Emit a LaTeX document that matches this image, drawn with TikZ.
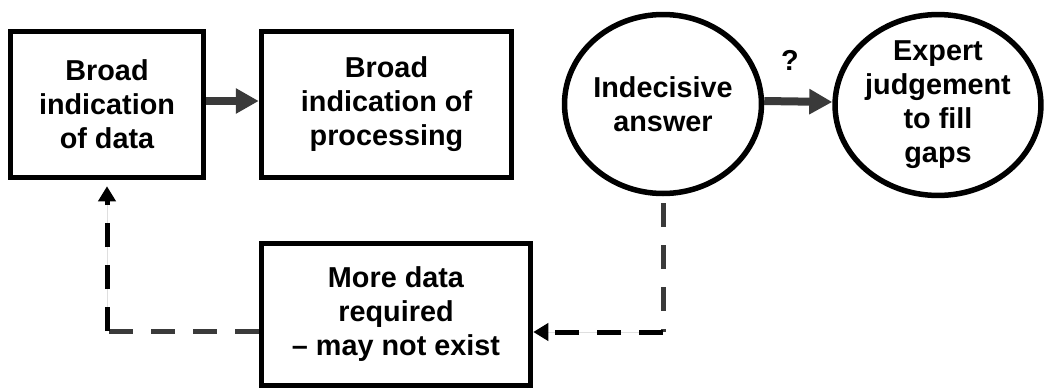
\documentclass[tikz,border=0pt]{standalone}
\usepackage{fontspec}
\setmainfont{Liberation Sans}
\usetikzlibrary{arrows.meta,shapes.geometric,calc}
\definecolor{ag}{RGB}{58,58,58}
\begin{document}
\begin{tikzpicture}[x=1pt,y=-1pt,
  box/.style={draw,line width=5.5pt,rectangle,inner sep=0pt,align=center,font=\bfseries\fontsize{28.8}{34}\selectfont},
  oval/.style={draw,line width=5.5pt,ellipse,inner sep=0pt,align=center,font=\bfseries\fontsize{28.8}{34}\selectfont},
  flow/.style={draw=ag,line width=8pt,-{Triangle[length=23pt,width=24pt]}},
  fb/.style={line width=5pt,dash pattern=on 24pt off 18pt},
  fbtip/.style={-{Triangle[length=15pt,width=17pt]}}]
\useasboundingbox (0,0) rectangle (1045,389);
\node[box,minimum width=193pt,minimum height=146pt] (data) at (107,104.5) {Broad\\indication\\of data};
\node[box,minimum width=250pt,minimum height=146pt] (proc) at (386.5,104.5) {Broad\\indication of\\processing};
\node[oval,minimum width=191pt,minimum height=179pt] (ans) at (663,104) {Indecisive\\answer};
\node[oval,minimum width=201pt,minimum height=179pt] (exp) at (938,105) {Expert\\judgement\\to fill\\gaps};
\node[box,minimum width=269pt,minimum height=142pt] (more) at (396,314.5) {More data\\required\\– may not exist};
\node[font=\bfseries\fontsize{28.8}{34}\selectfont] (q) at (790,60) {?};
\draw[flow] ($(data.east)+(0,-3.5)$) -- ($(proc.west)+(0,-3.5)$);
\draw[flow] ($(ans.east)+(0,-3)$) -- ($(exp.west)+(0,-3)$);
\coordinate (cr) at (664,332);
\coordinate (cl) at (107,331);
\draw[fb,draw=ag,shorten <=7pt] (ans.south) -- (ans.south |- cr);
\draw[fb,draw=black,fill=black,fbtip] (ans.south |- cr) -- (more.east |- cr);
\draw[fb,draw=ag] (more.west |- cl) -- (data.south |- cl);
\draw[fb,draw=black,fill=black,fbtip,shorten >=6pt] (data.south |- cl) -- (data.south);
\end{tikzpicture}
\end{document}
